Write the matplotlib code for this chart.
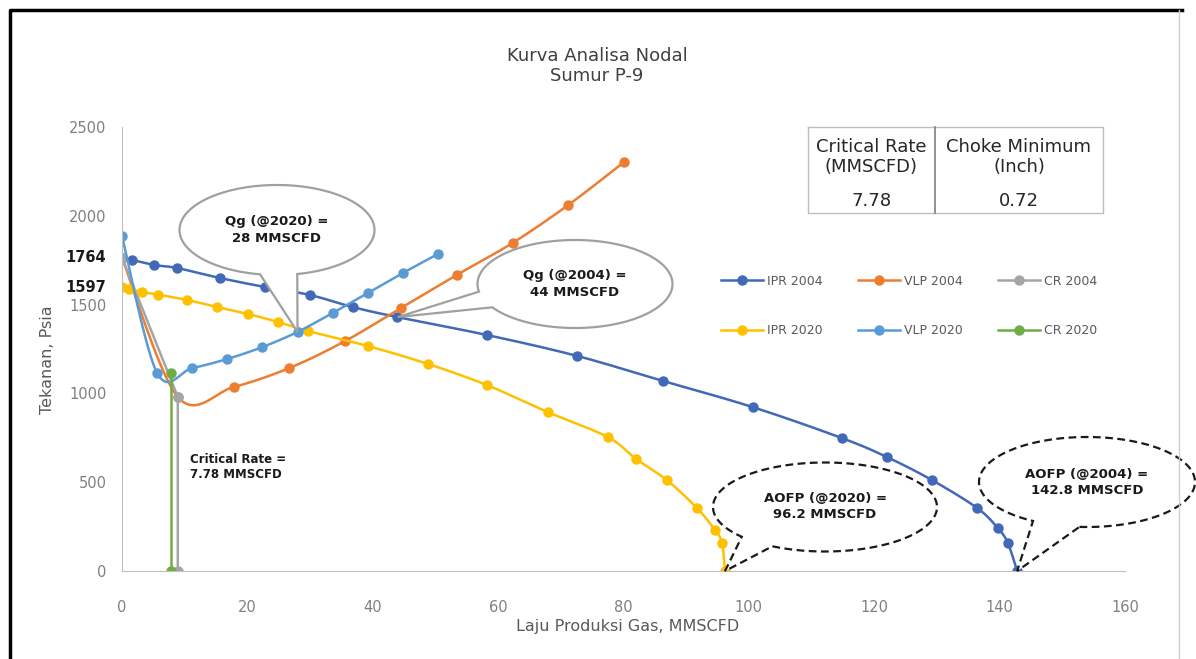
import numpy as np
import matplotlib
matplotlib.use("Agg")
import matplotlib.pyplot as plt
from matplotlib.lines import Line2D
from matplotlib.patches import Polygon

# IPR / VLP / critical-rate series (gas rate MMSCFD, pressure psia)
ipr04_q = [0, 1.6, 5.1, 8.8, 15.6, 22.8, 30.0, 36.8, 43.9, 58.2, 72.6, 86.3,
           100.6, 114.8, 122.0, 129.2, 136.4, 139.7, 141.3, 142.8]
ipr04_p = [1764, 1751, 1723, 1706, 1650, 1599, 1554, 1486, 1430, 1329, 1211, 1070,
           923, 749, 642, 512, 355, 242, 158, 0]

vlp04_q = [0, 8.9, 17.8, 26.7, 35.6, 44.5, 53.4, 62.3, 71.2, 80.1]
vlp04_p = [1764, 980, 1036, 1143, 1295, 1481, 1667, 1847, 2061, 2303]

cr04_q = [0, 8.9, 8.9]
cr04_p = [1764, 980, 0]

ipr20_q = [0, 1.1, 3.2, 5.8, 10.4, 15.2, 20.1, 24.9, 29.7, 39.2, 48.8, 58.2,
           67.9, 77.5, 82.0, 86.9, 91.7, 94.6, 95.7, 96.2]
ipr20_p = [1597, 1590, 1571, 1556, 1526, 1486, 1447, 1402, 1351, 1267, 1166, 1047,
           895, 754, 631, 512, 355, 230, 158, 0]

vlp20_q = [0, 5.6, 11.2, 16.8, 22.4, 28.0, 33.6, 39.2, 44.8, 50.4]
vlp20_p = [1886, 1115, 1143, 1194, 1261, 1346, 1453, 1565, 1678, 1785]

cr20_q = [7.78, 7.78]
cr20_p = [1115, 0]

series_names = ["IPR 2004", "VLP 2004", "CR 2004", "IPR 2020", "VLP 2020", "CR 2020"]

# operating points
qg04, pg04 = 44, 1430
qg20, pg20 = 28, 1346
aofp04 = 142.8
aofp20 = 96.2
crit_rate = 7.78
choke_min = 0.72
pr04 = 1764
pr20 = 1597

W, H = 1196, 659


def smooth(x, y, n=24):
    """Catmull-Rom curve through the points (Excel style smoothed line)."""
    pts = np.column_stack([x, y]).astype(float)
    P = np.vstack([pts[0], pts, pts[-1]])
    t = np.linspace(0, 1, n, endpoint=False)[:, None]
    out = []
    for i in range(1, len(P) - 2):
        p0, p1, p2, p3 = P[i - 1], P[i], P[i + 1], P[i + 2]
        seg = 0.5 * (2 * p1 + (-p0 + p2) * t + (2 * p0 - 5 * p1 + 4 * p2 - p3) * t ** 2
                     + (-p0 + 3 * p1 - 3 * p2 + p3) * t ** 3)
        out.append(seg)
    out.append(pts[-1:])
    c = np.vstack(out)
    return c[:, 0], c[:, 1]


fig = plt.figure(figsize=(W / 100, H / 100), dpi=100)
ax = fig.add_axes([122 / W, 1 - 571 / H, (1125 - 122) / W, (571 - 127) / H])

colors = {"IPR 2004": "#4169B8", "VLP 2004": "#ED7D31", "CR 2004": "#A5A5A5",
          "IPR 2020": "#FFC000", "VLP 2020": "#5B9BD5", "CR 2020": "#70AD47"}
data = {"IPR 2004": (ipr04_q, ipr04_p, True), "VLP 2004": (vlp04_q, vlp04_p, True),
        "CR 2004": (cr04_q, cr04_p, False), "IPR 2020": (ipr20_q, ipr20_p, True),
        "VLP 2020": (vlp20_q, vlp20_p, True), "CR 2020": (cr20_q, cr20_p, False)}

handles = {}
for name in series_names:
    q, p, sm = data[name]
    c = colors[name]
    if sm:
        sx, sy = smooth(q, p)
    else:
        sx, sy = q, p
    ax.plot(sx, sy, color=c, lw=1.8, solid_capstyle="round")
    ax.plot(q, p, "o", color=c, ms=6.5, mec=c)
    handles[name] = Line2D([], [], color=c, lw=1.8, marker="o", ms=6.5)

ax.set_xlim(0, 160)
ax.set_ylim(0, 2500)
ax.set_xticks(np.arange(0, 161, 20))
ax.set_yticks(np.arange(0, 2501, 500))
for s in ["top", "right"]:
    ax.spines[s].set_visible(False)
for s in ["left", "bottom"]:
    ax.spines[s].set_color("#BFBFBF")
ax.tick_params(axis="both", length=0, labelsize=10.5, labelcolor="#808080")
ax.tick_params(axis="x", pad=21)
ax.tick_params(axis="y", pad=11)
ax.patch.set_alpha(0)

# reservoir pressure labels on the y axis
ytr = ax.get_yaxis_transform()
for pv in (pr04, pr20):
    ax.text(-0.016, pv, str(pv), transform=ytr, ha="right", va="center",
            fontsize=10.5, fontweight="bold", color="#1a1a1a")

ax.text(10.8, 585, f"Critical Rate =\n{crit_rate:.2f} MMSCFD", fontsize=8.5,
        fontweight="bold", color="#1a1a1a", va="center", ha="left", linespacing=1.25)

leg_order = ["IPR 2004", "IPR 2020", "VLP 2004", "VLP 2020", "CR 2004", "CR 2020"]
fig.legend([handles[n] for n in leg_order], leg_order, loc="center",
           bbox_to_anchor=(909 / W, 1 - 306 / H), ncol=3, frameon=False,
           fontsize=9, labelcolor="#595959", handlelength=3.4, labelspacing=2.9,
           columnspacing=2.8, handletextpad=0.3)

fig.text(597 / W, 1 - 66 / H, "Kurva Analisa Nodal\nSumur P-9", ha="center", va="center",
         fontsize=13, color="#404040", linespacing=1.2)
fig.text(628 / W, 1 - 627 / H, "Laju Produksi Gas, MMSCFD", ha="center", va="center",
         fontsize=11.5, color="#595959")
fig.text(48 / W, 1 - 360 / H, "Tekanan, Psia", ha="center", va="center",
         rotation=90, fontsize=11.5, color="#595959")

# overlay in pixel coordinates for callouts, table and border
ov = fig.add_axes([0, 0, 1, 1], zorder=5)
ov.set_xlim(0, W)
ov.set_ylim(0, H)
ov.axis("off")
ov.patch.set_alpha(0)

fig.canvas.draw()


def callout(cx, cy, w, h, tip_data, a1, a2, text, ls, ec):
    cy = H - cy
    tx, ty = ax.transData.transform(tip_data)
    t = np.radians(np.linspace(a2, a1 + 360, 200))
    xs = cx + w / 2 * np.cos(t)
    ys = cy + h / 2 * np.sin(t)
    verts = np.vstack([np.column_stack([xs, ys]), [tx, ty]])
    ov.add_patch(Polygon(verts, closed=True, fc="white", ec=ec, lw=1.6, ls=ls, zorder=6))
    ov.text(cx, cy, text, ha="center", va="center", fontsize=9.5, fontweight="bold",
            color="#1a1a1a", zorder=7, linespacing=1.3)


callout(277, 230, 195, 90, (qg20, pg20), -100, -78,
        f"Qg (@2020) =\n{qg20} MMSCFD", "-", "#A0A0A0")
callout(575, 284, 195, 88, (qg04, pg04), 190, 212,
        f"Qg (@2004) =\n{qg04} MMSCFD", "-", "#A0A0A0")
callout(825, 507, 224, 89, (aofp20, 0), 222, 242,
        f"AOFP (@2020) =\n{aofp20} MMSCFD", (0, (3.5, 2)), "#1a1a1a")
callout(1087, 482, 216, 90, (aofp04, 0), 240, 266,
        f"AOFP (@2004) =\n{aofp04} MMSCFD", (0, (3.5, 2)), "#1a1a1a")

# small results table
tc = "#BFBFBF"
x0, x1, xm, y0, y1 = 808, 1103, 935, H - 127, H - 213
ov.plot([x0, x1, x1, x0, x0], [y0, y0, y1, y1, y0], color=tc, lw=1, zorder=6)
ov.plot([xm, xm], [y0, y1], color="#7f7f7f", lw=1.2, zorder=6)
ov.add_patch(plt.Rectangle((x0, y1), x1 - x0, y0 - y1, fc="white", ec="none", zorder=5.5))
ov.text((x0 + xm) / 2, H - 157, "Critical Rate\n(MMSCFD)", ha="center", va="center",
        fontsize=13, color="#262626", zorder=7, linespacing=1.15)
ov.text((xm + x1) / 2, H - 157, "Choke Minimum\n(Inch)", ha="center", va="center",
        fontsize=13, color="#262626", zorder=7, linespacing=1.15)
ov.text((x0 + xm) / 2, H - 201, f"{crit_rate:.2f}", ha="center", va="center",
        fontsize=13, color="#262626", zorder=7)
ov.text((xm + x1) / 2, H - 201, f"{choke_min:.2f}", ha="center", va="center",
        fontsize=13, color="#262626", zorder=7)

# outer border
ov.plot([10, 10, 1182], [0, H - 10, H - 10], color="black", lw=2.5, zorder=8)
ov.plot([1179, 1179], [0, H - 10], color="#D0D0D0", lw=1, zorder=8)

fig.savefig("out.png", dpi=100)
